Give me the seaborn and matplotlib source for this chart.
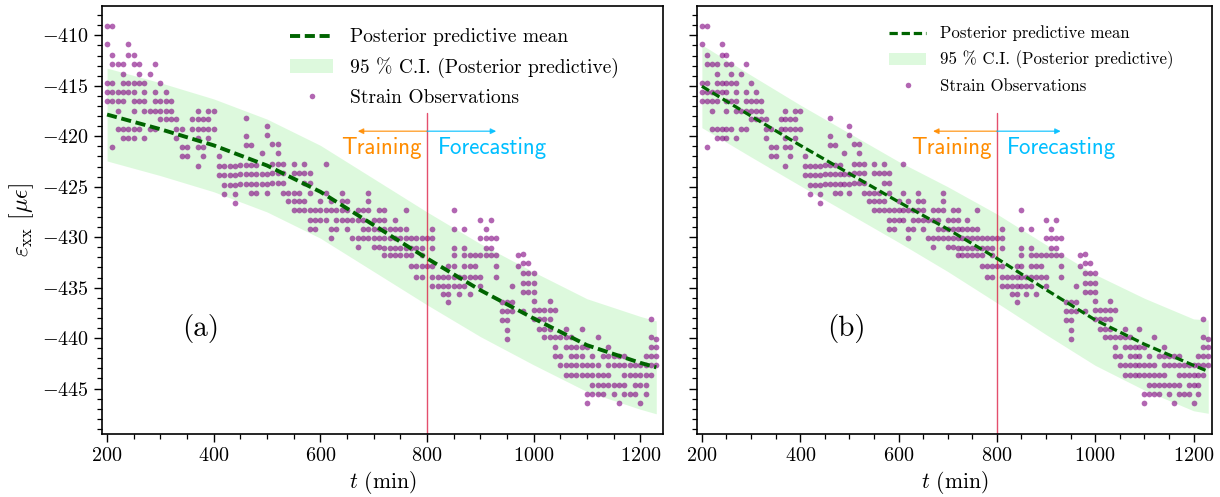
import numpy as np
import pandas as pd
import matplotlib
matplotlib.use("Agg")
import matplotlib.pyplot as plt
from matplotlib.lines import Line2D
from matplotlib.patches import Patch
from matplotlib.ticker import MultipleLocator
import seaborn as sns

sns.set_style("ticks")
plt.rcParams["font.family"] = ["cmr10"]
plt.rcParams["mathtext.fontset"] = "cm"
plt.rcParams["axes.formatter.use_mathtext"] = True
plt.rcParams["text.color"] = "black"
plt.rcParams["axes.labelcolor"] = "black"
plt.rcParams["xtick.color"] = "black"
plt.rcParams["ytick.color"] = "black"

# strain observations, grouped in 10 min bins
obs_time = [200, 210, 220, 230, 240, 250, 260, 270, 280, 290,
            300, 310, 320, 330, 340, 350, 360, 370, 380, 390,
            400, 410, 420, 430, 440, 450, 460, 470, 480, 490,
            500, 510, 520, 530, 540, 550, 560, 570, 580, 590,
            600, 610, 620, 630, 640, 650, 660, 670, 680, 690,
            700, 710, 720, 730, 740, 750, 760, 770, 780, 790,
            800, 810, 820, 830, 840, 850, 860, 870, 880, 890,
            900, 910, 920, 930, 940, 950, 960, 970, 980, 990,
            1000, 1010, 1020, 1030, 1040, 1050, 1060, 1070, 1080, 1090,
            1100, 1110, 1120, 1130, 1140, 1150, 1160, 1170, 1180, 1190,
            1200, 1210, 1220, 1230]
obs_strain = [
    [-409.1, -410.9, -414.7, -415.6, -416.5],
    [-409.1, -411.9, -412.8, -414.7, -415.6, -416.5, -421.1],
    [-412.8, -415.6, -416.5, -417.5, -419.3],
    [-412.8, -413.8, -414.7, -415.6, -416.5, -419.3, -420.2],
    [-410.9, -411.9, -414.7, -415.6, -419.3, -420.2],
    [-411.9, -412.8, -414.7, -415.6, -416.5, -417.5, -419.3, -420.2],
    [-412.8, -413.8, -414.7, -416.5, -419.3],
    [-414.7, -415.6, -416.5, -417.5, -420.2],
    [-413.8, -417.5, -419.3],
    [-412.8, -415.6, -416.5, -417.5, -419.3],
    [-414.7, -416.5, -417.5, -418.3],
    [-415.6, -416.5, -417.5, -418.3],
    [-416.5, -417.5, -418.3],
    [-418.3, -419.3, -420.2],
    [-419.3, -421.1, -422.0],
    [-421.1, -422.0],
    [-418.3, -419.3],
    [-417.5, -418.3, -419.3, -420.2, -421.1, -422.9],
    [-418.3, -419.3, -421.1, -422.0],
    [-417.5, -418.3, -419.3, -420.2],
    [-417.5, -419.3],
    [-422.0, -422.9, -423.8],
    [-422.9, -423.8, -424.8, -425.7],
    [-422.9, -423.8, -424.8],
    [-422.9, -423.8, -424.8, -425.7, -426.6],
    [-422.8, -423.7, -424.7],
    [-418.2, -420.0, -420.9, -422.8, -423.7, -424.7],
    [-420.9, -422.8, -423.7, -424.7, -425.6],
    [-422.8, -423.7, -424.7, -425.6],
    [-421.7, -423.7, -424.7],
    [-419.0, -419.9, -423.7, -424.7, -425.6],
    [-420.8, -422.7, -423.6, -424.6],
    [-420.8, -421.7, -422.7, -423.6, -424.6],
    [-422.7, -423.6, -424.6, -425.6],
    [-425.6, -426.4],
    [-422.7, -423.6, -425.6, -426.4, -427.3],
    [-423.6, -425.6, -426.4, -427.3],
    [-422.7, -423.6, -424.6, -426.4, -427.3],
    [-423.6, -424.6, -425.6, -427.3, -428.3, -429.2],
    [-427.3, -428.3, -429.2],
    [-426.4, -427.3, -428.3],
    [-422.7, -425.6, -427.3, -428.3],
    [-426.4, -427.3, -429.2, -430.1],
    [-427.3, -428.3, -429.2],
    [-425.6, -426.4, -427.3, -428.3],
    [-426.4, -427.3, -428.3, -429.2],
    [-428.3, -430.1],
    [-427.3, -428.3, -430.1, -431.0],
    [-427.3, -428.3, -429.2, -430.1],
    [-425.6, -426.4, -427.3, -429.2, -430.1],
    [-428.3, -429.2, -430.1, -431.0],
    [-427.3, -428.3, -429.2, -430.1, -431.0],
    [-427.3, -428.3, -429.2, -430.1, -431.1, -431.8],
    [-429.2, -430.1, -431.1, -431.8],
    [-428.3, -429.2, -430.1, -431.1, -431.8],
    [-429.2, -430.1, -431.1, -431.8],
    [-427.3, -429.2, -430.1, -431.1, -431.8],
    [-430.1, -431.1, -431.8, -432.9],
    [-430.1, -431.1, -432.9, -433.9],
    [-430.1, -431.1, -431.8, -432.9, -433.9],
    [-430.1, -432.9],
    [-429.2, -430.1, -431.1, -432.9, -433.9, -434.8],
    [-433.9, -434.8],
    [-433.9, -434.8, -435.6],
    [-432.9, -433.9, -434.8, -435.6, -436.4],
    [-427.3, -429.2, -431.1, -431.8, -432.9, -433.9, -434.8],
    [-433.9, -434.8, -435.6],
    [-429.2, -431.1, -431.8, -432.9, -433.9, -434.8],
    [-431.8, -432.9, -433.9, -435.6],
    [-431.8, -432.9, -433.9],
    [-428.3, -430.1, -431.8, -433.9, -434.8],
    [-429.2, -430.1, -431.1, -431.8],
    [-428.3, -430.1, -431.1, -431.8],
    [-430.1, -431.8, -432.9, -433.9],
    [-436.4, -437.3, -438.2],
    [-436.4, -437.3, -438.2, -439.2, -440.1],
    [-434.8, -436.4, -437.3],
    [-431.8, -432.9],
    [-431.7, -432.6, -433.5, -434.5, -435.4, -437.3],
    [-432.6, -433.5, -434.5, -435.4],
    [-433.5, -434.5, -435.4, -436.3, -437.2, -438.1],
    [-437.2, -438.1, -439.1],
    [-437.2, -438.1, -439.1, -439.9],
    [-436.3, -437.2, -438.1, -439.1, -439.9],
    [-437.2, -439.9, -440.9, -441.8],
    [-439.9, -441.8, -442.7],
    [-439.1, -439.9, -440.9, -442.7, -443.7],
    [-439.9, -440.9, -441.8, -442.7, -443.7],
    [-440.9, -441.8, -442.7, -443.7],
    [-439.1, -440.9, -441.8, -442.7, -443.7],
    [-440.9, -442.7, -443.7, -445.5, -446.4],
    [-441.8, -442.7, -443.7, -444.6, -445.5],
    [-439.9, -442.7, -443.7, -444.6, -445.5],
    [-441.8, -443.7, -444.6, -445.5],
    [-440.9, -441.8, -442.7, -443.7, -444.6],
    [-441.8, -442.7, -444.6, -445.5],
    [-441.8, -442.7, -444.6, -446.4],
    [-441.8, -442.7, -443.7, -444.6, -445.5],
    [-442.7, -443.7, -445.5],
    [-442.7, -443.7, -444.6, -445.5],
    [-442.7, -443.7, -444.6, -446.4],
    [-441.8, -442.7, -443.7, -444.6, -445.5],
    [-438.1, -439.9, -440.9, -441.8, -442.7, -443.7],
    [-440.1, -440.9, -441.8, -442.7],
]

# posterior predictive mean and 95 % band
pred_time = [200, 300, 400, 500, 600, 700, 800, 900, 1000, 1100, 1200, 1230]
mean_a = [-417.85, -419.3, -420.9, -422.9, -425.5, -428.8, -432.1, -435.25, -438.05, -440.7, -442.45, -442.9]
lower_a = [-422.45, -423.9, -425.5, -427.5, -430.1, -433.4, -436.7, -439.85, -442.65, -445.3, -447.05, -447.5]
upper_a = [-413.25, -414.7, -416.3, -418.3, -420.9, -424.2, -427.5, -430.65, -433.45, -436.1, -437.85, -438.3]
mean_b = [-415.05, -418.0, -420.9, -423.7, -426.5, -429.2, -432.1, -435.2, -438.2, -440.6, -442.7, -443.3]
lower_b = [-419.15, -422.05, -424.9, -427.7, -430.5, -433.4, -436.5, -439.65, -442.7, -445.15, -447.2, -447.45]
upper_b = [-410.95, -413.95, -416.9, -419.7, -422.5, -425.0, -427.7, -430.75, -433.7, -436.05, -438.1, -438.2]

t_split = 800
labels = ["Posterior predictive mean", "95 % C.I. (Posterior predictive)", "Strain Observations"]

obs = pd.DataFrame({
    "t": np.repeat(obs_time, [len(v) for v in obs_strain]),
    "strain": np.concatenate(obs_strain),
})

fig = plt.figure(figsize=(12.2, 4.97), dpi=100)
ax_a = fig.add_axes([0.0836, 0.1268, 0.4598, 0.861])
ax_b = fig.add_axes([0.5713, 0.1268, 0.4221, 0.861], sharey=ax_a)

dash = (0, (2.6, 1.2))


def draw_panel(ax, mean, lower, upper, lw, tag, tag_x, leg_fs, leg_anchor, xlim):
    ax.fill_between(pred_time, lower, upper, color="lightgreen", alpha=0.3, lw=0, zorder=1)
    sns.scatterplot(data=obs, x="t", y="strain", ax=ax, color="purple", s=17,
                    alpha=0.6, linewidth=0, zorder=2)
    sns.lineplot(x=pred_time, y=mean, ax=ax, color="darkgreen", lw=lw, linestyle=dash, zorder=3)

    ax.axvline(t_split, ymin=0, ymax=0.75, color="crimson", alpha=0.75, lw=1)
    ax.annotate("", xy=(670, -419.5), xytext=(t_split, -419.5),
                arrowprops=dict(arrowstyle="-|>", color="darkorange", lw=1,
                                shrinkA=0, shrinkB=0, mutation_scale=8, alpha=0.8))
    ax.annotate("", xy=(930, -419.5), xytext=(t_split, -419.5),
                arrowprops=dict(arrowstyle="-|>", color="deepskyblue", lw=1,
                                shrinkA=0, shrinkB=0, mutation_scale=8, alpha=0.8))
    ax.text(790, -421.2, "Training", ha="right", va="center", color="darkorange",
            family="cmss10", fontsize=16.5)
    ax.text(820, -421.2, "Forecasting", ha="left", va="center", color="deepskyblue",
            family="cmss10", fontsize=16.5)
    ax.text(tag_x, -439, tag, ha="center", va="center", fontsize=21)

    handles = [
        Line2D([], [], color="darkgreen", lw=lw, linestyle=dash),
        Patch(facecolor="lightgreen", alpha=0.3, lw=0),
        Line2D([], [], marker="o", ls="", color="purple", alpha=0.6,
               markersize=4.0, markeredgewidth=0),
    ]
    ax.legend(handles, labels, loc="upper left", bbox_to_anchor=leg_anchor,
              frameon=False, fontsize=leg_fs, handlelength=2.2, handletextpad=0.85,
              labelspacing=0.55, borderaxespad=0, borderpad=0.4, scatterpoints=1)

    ax.set_xlim(*xlim)
    ax.set_ylim(-449.5, -407.1)
    ax.xaxis.set_major_locator(MultipleLocator(200))
    ax.xaxis.set_minor_locator(MultipleLocator(50))
    ax.yaxis.set_major_locator(MultipleLocator(5))
    ax.yaxis.set_minor_locator(MultipleLocator(1))
    ax.tick_params(which="major", length=6, width=1, direction="out", labelsize=14.5)
    ax.tick_params(which="minor", length=3.5, width=0.9, direction="out")
    for s in ax.spines.values():
        s.set_visible(True)
        s.set_color("black")
        s.set_linewidth(1.2)
    ax.set_xlabel("$t$ (min)", fontsize=15.5, labelpad=3)


draw_panel(ax_a, mean_a, lower_a, upper_a, 2.8, "(a)", 375, 14.0, (0.322, 0.966), (190.5, 1242.5))
draw_panel(ax_b, mean_b, lower_b, upper_b, 2.3, "(b)", 495, 12.1, (0.36, 0.97), (190, 1237.5))

ax_a.set_ylabel(r"$\varepsilon_{\rm xx}$ [$\mu\epsilon$]", fontsize=17)
ax_b.set_ylabel("")
ax_b.tick_params(labelleft=False)

fig.savefig("out.png", dpi=100)
